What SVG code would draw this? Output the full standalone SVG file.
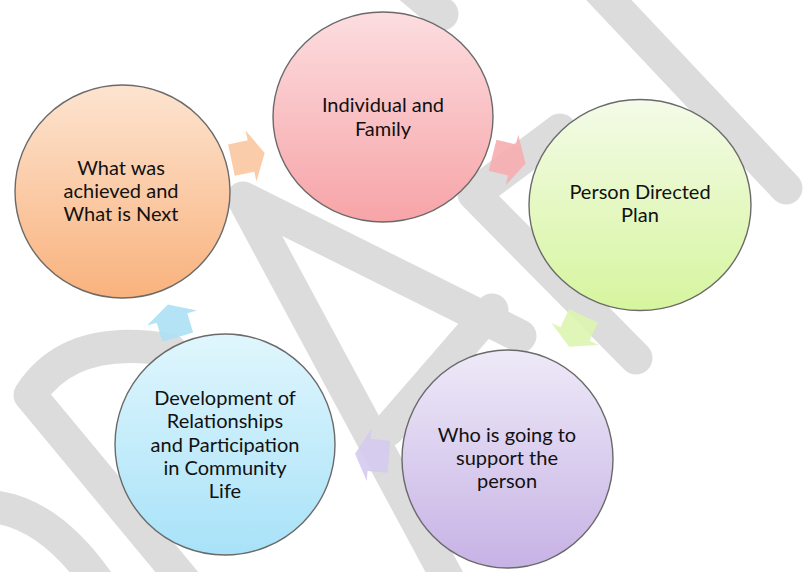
<svg xmlns="http://www.w3.org/2000/svg" width="803" height="572" viewBox="0 0 803 572">
  <defs>
    <linearGradient id="gOrange" x1="0" y1="0" x2="0" y2="1">
      <stop offset="0" stop-color="#fde4d0"/>
      <stop offset="1" stop-color="#f9b27d"/>
    </linearGradient>
    <linearGradient id="gPink" x1="0" y1="0" x2="0" y2="1">
      <stop offset="0" stop-color="#fcdde0"/>
      <stop offset="1" stop-color="#f7a4a7"/>
    </linearGradient>
    <linearGradient id="gGreen" x1="0" y1="0" x2="0" y2="1">
      <stop offset="0" stop-color="#f4fbe8"/>
      <stop offset="1" stop-color="#d6f59e"/>
    </linearGradient>
    <linearGradient id="gPurple" x1="0" y1="0" x2="0" y2="1">
      <stop offset="0" stop-color="#eeeaf8"/>
      <stop offset="1" stop-color="#c7b2e5"/>
    </linearGradient>
    <linearGradient id="gBlue" x1="0" y1="0" x2="0" y2="1">
      <stop offset="0" stop-color="#e0f6fd"/>
      <stop offset="1" stop-color="#a8e2f8"/>
    </linearGradient>
    <!-- block arrow pointing along +x, shoulder line at x=0 -->
    <polygon id="arrow" points="-20,-16 0,-16 0,-26 14,0 0,26 0,16 -20,16"/>
  </defs>
  <style>
    .wm { fill: none; stroke: #dcdcdc; stroke-width: 33; stroke-linecap: round; stroke-linejoin: round; }
    .node { stroke: #6a6a6a; stroke-width: 1.4; }
    .label { font-family: Lato, "Liberation Sans", sans-serif; font-size: 20px; fill: #111111; text-anchor: middle; }
    .arr { opacity: 0.9; }
  </style>

  <rect width="803" height="572" fill="#ffffff"/>

  <!-- background watermark strokes -->
  <g id="watermark">
    <path class="wm" d="M 590,-20 L 786,188"/>
    <path class="wm" d="M 392,-28 L 442,14"/>
    <path class="wm" d="M 560,130 L 474,194 L 636,358"/>
    <path class="wm" d="M 520,336 L 243,198 L 470,620"/>
    <path class="wm" d="M 388,430 L 492,310"/>
    <path class="wm" d="M 170,350 Q 70,333 30,395 L 200,600"/>
    <path class="wm" d="M -20,506 Q 45,505 100,585"/>
  </g>

  <!-- cycle arrows -->
  <g id="connectors">
    <use href="#arrow" class="arr" fill="#fbc7a0" transform="translate(251,156) rotate(-12)"/>
    <use href="#arrow" class="arr" fill="#f7adb0" transform="translate(512,160) rotate(14)"/>
    <use href="#arrow" class="arr" fill="#dcf5b0" transform="translate(575,334) rotate(115)"/>
    <use href="#arrow" class="arr" fill="#d5caee" transform="translate(369,455) rotate(185)"/>
    <use href="#arrow" class="arr" fill="#ace0f5" transform="translate(172,318) rotate(-107)"/>
  </g>

  <g id="node-individual">
    <ellipse class="node" cx="383" cy="117" rx="110" ry="105" fill="url(#gPink)"/>
    <text class="label" x="383" y="112">Individual and</text>
    <text class="label" x="383" y="136">Family</text>
  </g>

  <g id="node-plan">
    <ellipse class="node" cx="640" cy="205" rx="111" ry="105.5" fill="url(#gGreen)"/>
    <text class="label" x="640" y="199">Person Directed</text>
    <text class="label" x="640" y="222">Plan</text>
  </g>

  <g id="node-support">
    <ellipse class="node" cx="507.5" cy="459" rx="105.5" ry="109" fill="url(#gPurple)"/>
    <text class="label" x="507" y="442">Who is going to</text>
    <text class="label" x="507" y="465">support the</text>
    <text class="label" x="507" y="488">person</text>
  </g>

  <g id="node-community">
    <ellipse class="node" cx="225" cy="444.5" rx="110" ry="110.5" fill="url(#gBlue)"/>
    <text class="label" x="225" y="405">Development of</text>
    <text class="label" x="225" y="428">Relationships</text>
    <text class="label" x="225" y="452">and Participation</text>
    <text class="label" x="225" y="475">in Community</text>
    <text class="label" x="225" y="498">Life</text>
  </g>

  <g id="node-achieved">
    <ellipse class="node" cx="122.5" cy="191.5" rx="107.5" ry="106.5" fill="url(#gOrange)"/>
    <text class="label" x="121" y="175">What was</text>
    <text class="label" x="121" y="198">achieved and</text>
    <text class="label" x="121" y="221">What is Next</text>
  </g>
</svg>
